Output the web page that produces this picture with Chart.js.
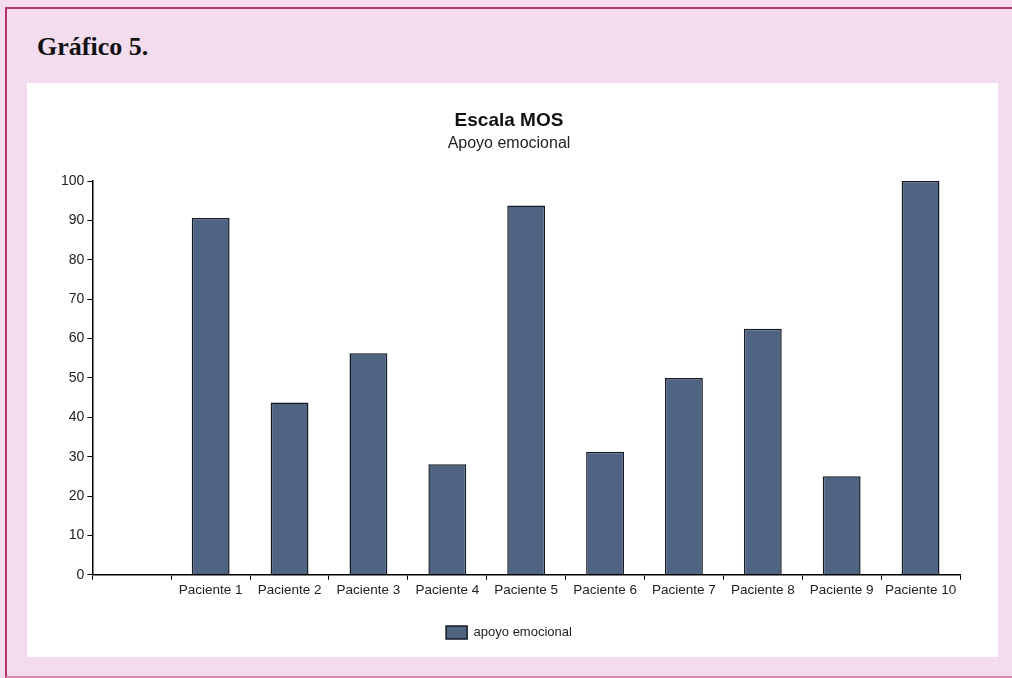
<!DOCTYPE html>
<html lang="es">
<head>
<meta charset="utf-8">
<title>Gráfico 5. Escala MOS</title>
<script src="https://cdn.jsdelivr.net/npm/chart.js@4/dist/chart.umd.min.js"></script>
<style>
  html, body {
    margin: 0;
    padding: 0;
    width: 1012px;
    height: 678px;
    overflow: hidden;
    background: #f4dcef;
  }
  #frame {
    position: absolute;
    left: 5px;
    top: 7px;
    width: 1020px;
    height: 667px;
    border-left: 2px solid #b8336a;
    border-top: 2px solid #b8336a;
    border-bottom: 2px solid #d58cb0;
  }
  #heading {
    position: absolute;
    left: 37px;
    top: 34px;
    margin: 0;
    font-family: "Liberation Serif", "Times New Roman", serif;
    font-weight: bold;
    font-size: 26px;
    line-height: 1;
    color: #111;
  }
  #panel {
    position: absolute;
    left: 27px;
    top: 83px;
    width: 971px;
    height: 574px;
    background: #fff;
  }
</style>
</head>
<body>
<div id="frame"></div>
<h2 id="heading">Gráfico 5.</h2>
<div id="panel"><canvas id="mos-chart" width="971" height="574"></canvas></div>

<script>
// Escala MOS - apoyo emocional, puntuación por paciente (0-100)
const pacientes = ["Paciente 1", "Paciente 2", "Paciente 3", "Paciente 4", "Paciente 5",
  "Paciente 6", "Paciente 7", "Paciente 8", "Paciente 9", "Paciente 10"];
const apoyoEmocional = [90.6, 43.75, 56.25, 28.1, 93.75, 31.25, 50, 62.5, 25, 100];
const yTicks = [0, 10, 20, 30, 40, 50, 60, 70, 80, 90, 100];

const textFont = "'Liberation Sans', Arial, sans-serif";

// the axis keeps an empty slot before the first patient
const labels = [""].concat(pacientes);
const values = [null].concat(apoyoEmocional);

const ctx = document.getElementById("mos-chart").getContext("2d");

new Chart(ctx, {
  type: "bar",
  data: {
    labels: labels,
    datasets: [
      {
        label: "apoyo emocional",
        data: values,
        backgroundColor: "#4e6482",
        borderColor: "#141a24",
        borderWidth: 1.5,
        categoryPercentage: 1,
        barPercentage: 0.48,
      },
    ],
  },
  options: {
    responsive: false,
    animation: false,
    layout: {
      padding: { left: 31, right: 38, top: 0, bottom: 8 },
    },
    plugins: {
      title: {
        display: true,
        text: "Escala MOS",
        color: "#111",
        font: { family: textFont, size: 19, weight: "bold" },
        padding: { top: 26, bottom: 2 },
      },
      subtitle: {
        display: true,
        text: "Apoyo emocional",
        color: "#222",
        font: { family: textFont, size: 16 },
        padding: { top: 0, bottom: 28 },
      },
      legend: {
        position: "bottom",
        labels: {
          color: "#222",
          font: { family: textFont, size: 13 },
          boxWidth: 21,
          boxHeight: 13,
          padding: 12,
        },
      },
      tooltip: { enabled: false },
    },
    scales: {
      x: {
        // extra room between the category labels and the legend
        afterFit: (axis) => {
          axis.height += 14;
        },
        grid: {
          display: true,
          drawOnChartArea: false,
          offset: true,
          color: "#000",
          tickLength: 5,
        },
        border: { color: "#000", width: 1.5 },
        ticks: {
          color: "#222",
          font: { family: textFont, size: 13.5 },
          padding: 2,
          maxRotation: 0,
          autoSkip: false,
        },
      },
      y: {
        min: 0,
        max: 100,
        afterBuildTicks: (axis) => {
          axis.ticks = yTicks.map((v) => ({ value: v }));
        },
        grid: {
          display: true,
          drawOnChartArea: false,
          color: "#000",
          tickLength: 5,
        },
        border: { color: "#000", width: 1.5 },
        ticks: {
          color: "#222",
          font: { family: textFont, size: 14 },
          padding: 3,
        },
      },
    },
  },
});
</script>
</body>
</html>
